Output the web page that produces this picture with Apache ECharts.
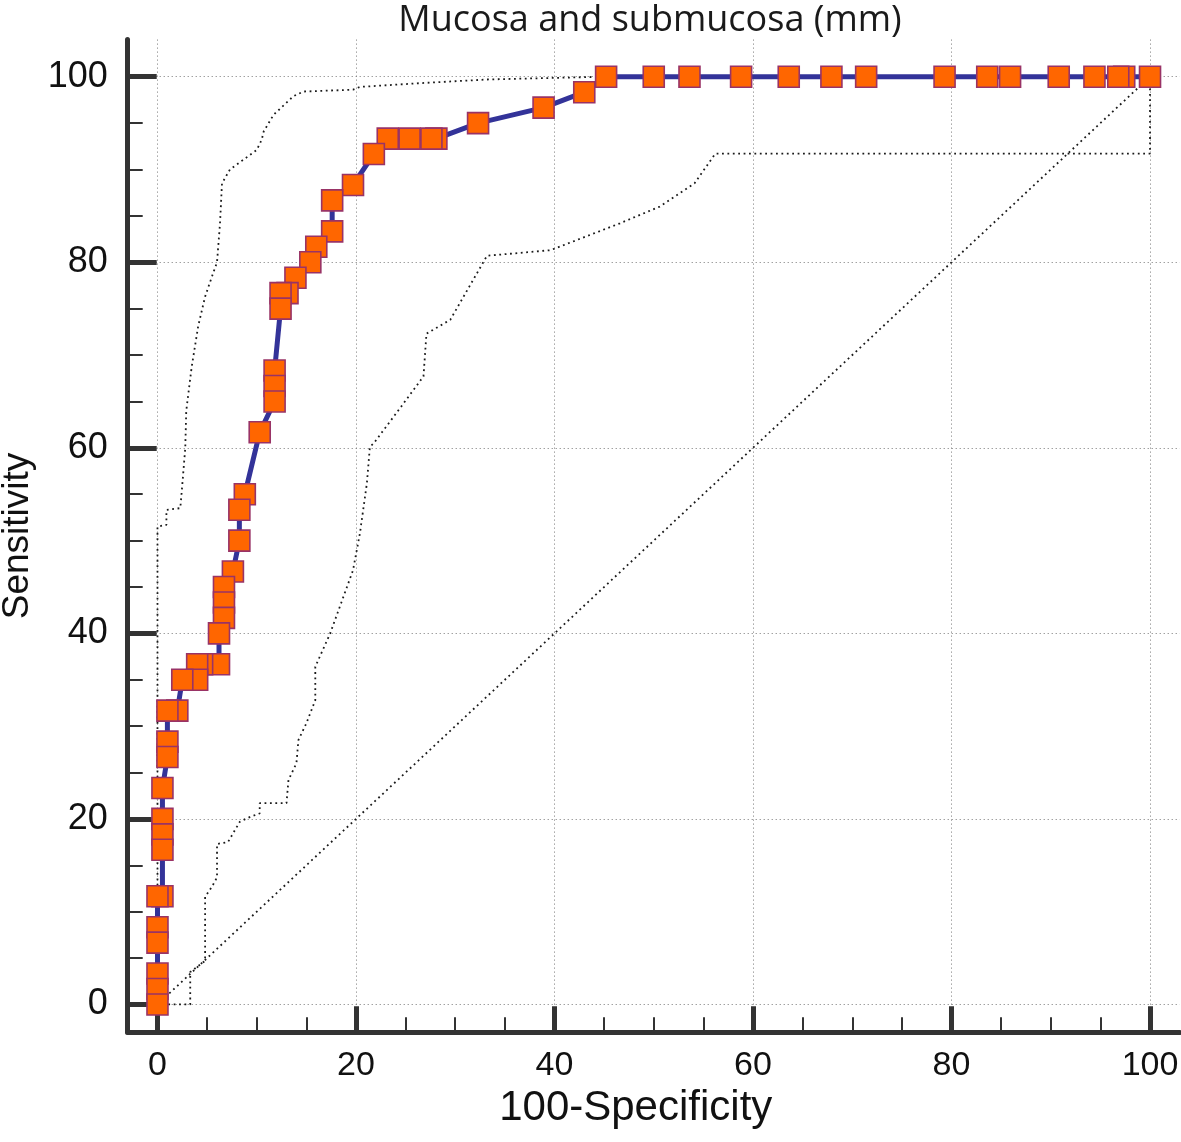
<!DOCTYPE html>
<html>
<head>
<meta charset="utf-8">
<script src="https://cdn.jsdelivr.net/npm/echarts@6/dist/echarts.min.js"></script>
<style>
html,body{margin:0;padding:0;background:#fff;}
#chart{width:1181px;height:1142px;}
</style>
</head>
<body>
<div id="chart"></div>
<script>
// ---- data ----
const titleText = 'Mucosa and submucosa (mm)';
const xName = '100-Specificity';
const yName = 'Sensitivity';
const majorTicks = [0, 20, 40, 60, 80, 100];
const minorTicks = [5, 10, 15, 25, 30, 35, 45, 50, 55, 65, 70, 75, 85, 90, 95];

// ROC points (100-Specificity, Sensitivity), ascending
const rocFpr = [0, 0, 0, 0, 0, 0, 0.5, 0.5, 0.5, 0.5, 0.5, 1.0, 1.0, 1.0, 2.0, 2.5, 4.0, 4.0, 4.5, 6.2, 6.2, 6.7, 6.7, 6.7, 7.6, 8.25, 8.25, 8.8, 10.3, 11.8, 11.8, 11.8, 12.4, 12.4, 13.1, 13.9, 15.4, 16.0, 17.6, 17.6, 19.7, 21.8, 23.2, 25.4, 27.6, 28.1, 32.3, 38.9, 43.0, 45.2, 50.0, 53.6, 58.8, 63.6, 67.9, 71.4, 79.3, 83.6, 85.9, 90.8, 94.4, 96.8, 97.4, 100];
const rocSens = [0, 1.67, 3.33, 6.67, 8.33, 11.67, 11.67, 16.67, 18.33, 20, 23.33, 26.67, 28.33, 31.67, 31.67, 35, 35, 36.67, 36.67, 36.67, 40, 41.67, 43.33, 45, 46.67, 50, 53.33, 55, 61.67, 65, 66.67, 68.33, 75, 76.67, 76.67, 78.33, 80, 81.67, 83.33, 86.67, 88.33, 91.67, 93.33, 93.33, 93.33, 93.33, 95, 96.67, 98.33, 100, 100, 100, 100, 100, 100, 100, 100, 100, 100, 100, 100, 100, 100, 100];

// Upper 95% confidence bound
const upperFpr = [0, 0, 0.9, 0.9, 2.3, 2.5, 2.8, 2.9, 3.45, 4.1, 4.8, 5.5, 6.0, 6.3, 6.5, 7.3, 10.0, 10.5, 10.7, 11.7, 13.7, 14.7, 19.7, 20.4, 26.4, 33.2, 45, 100];
const upperSens = [0, 51.5, 51.7, 53.3, 53.5, 56, 60, 64, 68.75, 73.1, 76.3, 78.5, 80, 84.2, 88.5, 90, 92.1, 93.2, 94.1, 95.9, 97.9, 98.4, 98.6, 98.9, 99.3, 99.7, 100, 100];

// Lower 95% confidence bound
const lowerFpr = [0, 3.3, 3.3, 4.8, 4.8, 5.5, 6.0, 6.0, 7.1, 8.3, 9.3, 10.3, 10.3, 13.0, 13.2, 14.0, 14.2, 15.0, 15.9, 15.9, 17.4, 19.7, 20.4, 21.1, 21.4, 21.8, 24.8, 26.8, 27.1, 29.5, 33.2, 39.6, 46.6, 50.6, 54.1, 56.2, 100, 100];
const lowerSens = [0, 0, 3.5, 4.7, 11.6, 12.7, 13.7, 17.3, 17.5, 19.7, 20.2, 20.6, 21.7, 21.7, 24.2, 26, 28.5, 30.3, 32.8, 36.4, 40, 46.8, 50.8, 56.2, 60.1, 60.5, 64.8, 67.7, 72.3, 73.8, 80.7, 81.3, 84.2, 86, 88.5, 91.7, 91.7, 100];

// Reference (chance) diagonal
const diagFpr = [0, 100];
const diagSens = [0, 100];

// ---- build ----
const zip = (a, b) => a.map((v, i) => [v, b[i]]);
const rocData = zip(rocFpr, rocSens).reverse(); // drawn from (100,100) down so low points sit on top

const axisColor = '#333333';
const labelFont = 'Liberation Sans, Arial, sans-serif';

function mainAxis(isX) {
  return {
    type: 'value', min: -3, max: isX ? 103 : 104,
    position: isX ? 'bottom' : 'left',
    axisLine: { show: true, onZero: false, lineStyle: { color: axisColor, width: 5 } },
    axisTick: { show: true, inside: true, customValues: majorTicks, length: isX ? 26 : 29,
      lineStyle: { color: axisColor, width: 5 } },
    axisLabel: { show: true, customValues: majorTicks, color: '#111', fontFamily: labelFont,
      fontSize: isX ? 34 : 36, margin: isX ? 16 : 20 },
    splitLine: { show: true, lineStyle: { color: '#777', width: 1, type: [1, 3] } },
    minorTick: { show: false }, minorSplitLine: { show: false },
    name: isX ? xName : yName,
    nameLocation: 'middle',
    nameGap: isX ? 48 : 88,
    nameRotate: isX ? 0 : 90,
    nameTextStyle: isX
      ? { color: '#111', fontFamily: labelFont, fontSize: 42, padding: [0, 36, 0, 0] }
      : { color: '#111', fontFamily: labelFont, fontSize: 37 }
  };
}
function minorAxis(isX) {
  return {
    type: 'value', min: -3, max: isX ? 103 : 104,
    position: isX ? 'bottom' : 'left',
    axisLine: { show: false, onZero: false },
    axisTick: { show: true, inside: true, customValues: minorTicks, length: 15,
      lineStyle: { color: axisColor, width: 2 } },
    axisLabel: { show: false },
    splitLine: { show: false }
  };
}

const dotted = { color: '#1a1a1a', width: 1.8, type: [1.8, 3.6] };

const option = {
  animation: false,
  backgroundColor: '#ffffff',
  title: {
    text: titleText, left: 645, top: -2, textAlign: 'center',
    textStyle: { fontFamily: 'Open Sans, Noto Sans, sans-serif', fontSize: 36, fontWeight: 'normal', color: '#1a1a1a' }
  },
  grid: { left: 127.7, top: 39.6, width: 1052.1, height: 992.7, containLabel: false, outerBoundsMode: 'none' },
  xAxis: [mainAxis(true), minorAxis(true)],
  yAxis: [mainAxis(false), minorAxis(false)],
  series: [
    { type: 'line', name: 'diagonal', data: zip(diagFpr, diagSens), symbol: 'none',
      lineStyle: dotted, silent: true, z: 2 },
    { type: 'line', name: 'upper', data: zip(upperFpr, upperSens), symbol: 'none',
      lineStyle: dotted, silent: true, z: 2 },
    { type: 'line', name: 'lower', data: zip(lowerFpr, lowerSens), symbol: 'none',
      lineStyle: dotted, silent: true, z: 2 },
    { type: 'line', name: 'ROC', data: rocData, symbol: 'rect', symbolSize: 21,
      showAllSymbol: true,
      lineStyle: { color: '#333399', width: 5 },
      itemStyle: { color: '#FF6600', borderColor: '#993366', borderWidth: 1.6 },
      z: 3 }
  ]
};

const chart = echarts.init(document.getElementById('chart'), null, { renderer: 'canvas' });
chart.setOption(option);
</script>
</body>
</html>
